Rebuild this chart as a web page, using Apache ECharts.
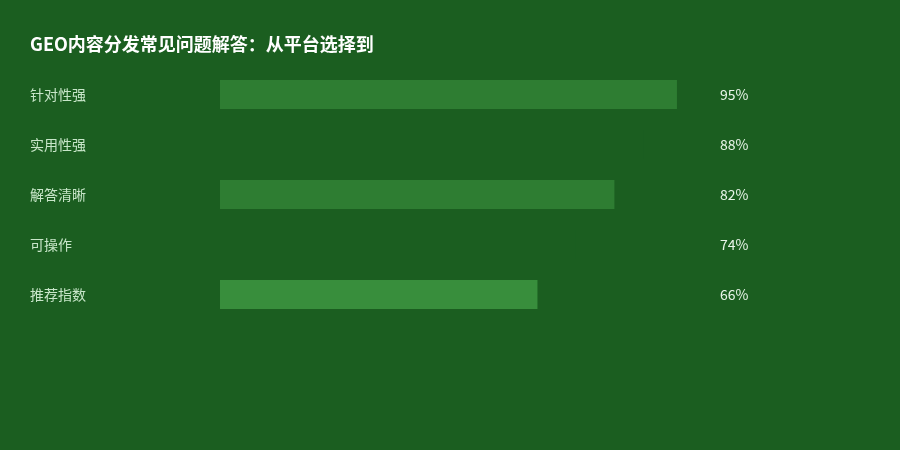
<!DOCTYPE html>
<html>
<head>
    <meta charset="UTF-8">
    <title>GEO内容分发常见问题解答</title>
    <script src="https://cdn.jsdelivr.net/npm/echarts/dist/echarts.min.js"></script>
    <style>
        html, body { margin: 0; padding: 0; background: #1b5e20; }
    </style>
</head>
<body>
    <div id="main" style="width: 900px; height: 450px;"></div>

    <script type="text/javascript">
        // 数据
        var categories = ['针对性强', '实用性强', '解答清晰', '可操作', '推荐指数'];
        var values = [95, 88, 82, 74, 66];
        var barColors = ['#2e7d32', '#1b5e20', '#2e7d32', '#1b5e20', '#388e3c'];
        var valueLabels = values.map(function (v) { return v + '%'; });

        var myChart = echarts.init(document.getElementById('main'));

        var fontFamily = '"Noto Sans CJK SC", "Noto Sans", sans-serif';

        var option = {
            backgroundColor: '#1b5e20',
            title: {
                text: 'GEO内容分发常见问题解答：从平台选择到',
                left: 30,
                top: 35,
                padding: 0,
                textStyle: {
                    color: '#ffffff',
                    fontSize: 18,
                    fontWeight: 'bold',
                    fontFamily: fontFamily
                }
            },
            grid: {
                left: 220,
                right: 199,
                top: 69.5,
                height: 250
            },
            xAxis: {
                type: 'value',
                min: 0,
                max: 100,
                show: false
            },
            yAxis: [
                {
                    type: 'category',
                    inverse: true,
                    data: categories,
                    axisLine: { show: false },
                    axisTick: { show: false },
                    axisLabel: {
                        align: 'left',
                        margin: 190,
                        color: '#c8e6c9',
                        fontSize: 14,
                        fontFamily: fontFamily
                    }
                },
                {
                    type: 'category',
                    inverse: true,
                    position: 'right',
                    data: valueLabels,
                    axisLine: { show: false },
                    axisTick: { show: false },
                    axisLabel: {
                        align: 'left',
                        margin: 19,
                        color: '#e8f5e9',
                        fontSize: 14,
                        fontFamily: fontFamily
                    }
                }
            ],
            series: [
                {
                    type: 'bar',
                    yAxisIndex: 0,
                    barWidth: 29,
                    silent: true,
                    data: values.map(function (v, i) {
                        return { value: v, itemStyle: { color: barColors[i] } };
                    })
                }
            ]
        };

        myChart.setOption(option);
    </script>
</body>
</html>
